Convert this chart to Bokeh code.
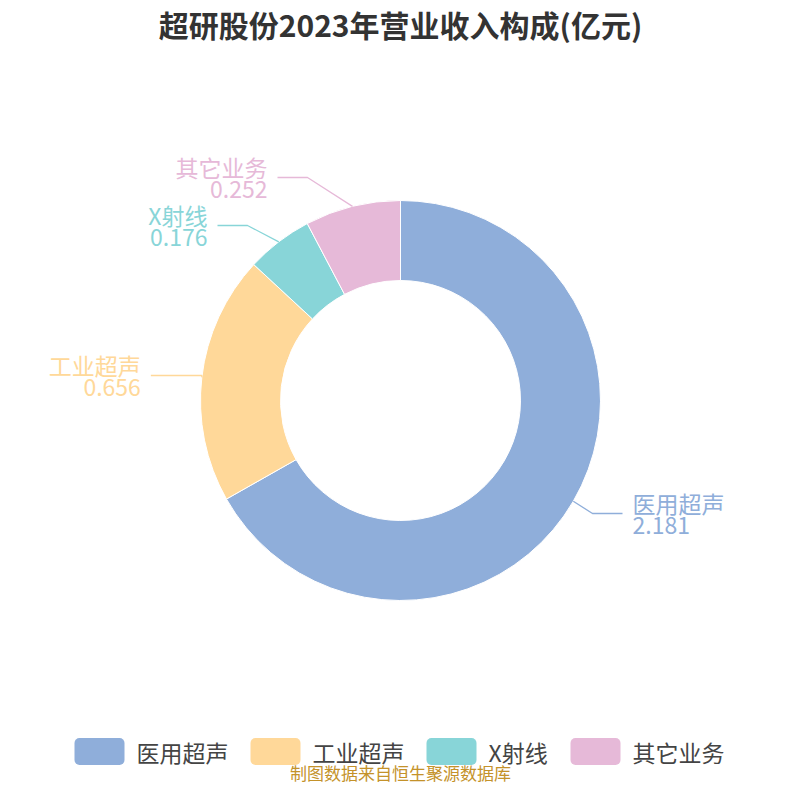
import math
from bokeh.plotting import figure
from bokeh.models import Range1d
from bokeh.core.properties import value
from bokeh.embed import file_html
from bokeh.resources import INLINE

# ---- data ----
categories = ["医用超声", "工业超声", "X射线", "其它业务"]
revenues = [2.181, 0.656, 0.176, 0.252]
colors = ["#8FAEDA", "#FFD899", "#88D5D8", "#E6B9D8"]
title_text = "超研股份2023年营业收入构成(亿元)"
source_text = "制图数据来自恒生聚源数据库"

# ---- layout (screen coordinates of the picture) ----
W = H = 784
CX, CY = 400, 400
R_OUT, R_IN = 200, 120
# elbow points of leader lines and direction of the label (+1 right, -1 left)
label_elbows = [(592, 513), (None, 375), (247, 225), (307, 177)]
label_side = [1, -1, -1, -1]
legend_box_x = [74, 250, 426, 570]
LEGEND_Y = 751
FONT = "Noto Sans CJK SC"


def Y(y):
    return H - y


p = figure(width=W, height=H, output_backend="svg", toolbar_location=None,
           x_range=Range1d(0, W), y_range=Range1d(0, H),
           min_border=0, outline_line_color=None)
p.axis.visible = False
p.grid.visible = False
p.background_fill_color = "white"

total = sum(revenues)
cum = 0.0
for i, v in enumerate(revenues):
    a0 = math.pi / 2 - cum / total * 2 * math.pi
    cum += v
    a1 = math.pi / 2 - cum / total * 2 * math.pi
    p.annular_wedge(x=CX, y=Y(CY), inner_radius=R_IN, outer_radius=R_OUT,
                    start_angle=a0, end_angle=a1, direction="clock",
                    fill_color=colors[i], line_color="white", line_width=1)
    mid = (a0 + a1) / 2
    sx = CX + R_OUT * math.cos(mid)
    sy = CY - R_OUT * math.sin(mid)
    ex, ey = label_elbows[i]
    if ex is None:
        ex = sx
    side = label_side[i]
    lx = ex + side * 30 if label_elbows[i][0] is not None else ex + side * 51
    p.line(x=[sx, ex, lx], y=[Y(sy), Y(ey), Y(ey)], line_color=colors[i], line_width=1.3)
    tx = lx + side * 10
    align = "left" if side > 0 else "right"
    p.text(x=[tx], y=[Y(ey - 11)], text=[categories[i]], text_color=colors[i],
           text_font=value(FONT), text_font_size="23px", text_align=align,
           text_baseline="middle")
    p.text(x=[tx], y=[Y(ey + 12)], text=[f"{v:.3f}"], text_color=colors[i],
           text_font=value(FONT), text_font_size="23px", text_align=align,
           text_baseline="middle")

# title
p.text(x=[400], y=[Y(23)], text=[title_text], text_color="#333333",
       text_font=value(FONT), text_font_size="30px", text_font_style="bold",
       text_align="center", text_baseline="middle")

# legend
for i, c in enumerate(categories):
    bx = legend_box_x[i]
    p.quad(left=bx, right=bx + 50, bottom=Y(LEGEND_Y + 13.5), top=Y(LEGEND_Y - 13.5),
           fill_color=colors[i], line_color=None, border_radius=5)
    p.text(x=[bx + 62], y=[Y(LEGEND_Y)], text=[c], text_color="#444444",
           text_font=value(FONT), text_font_size="23px", text_align="left",
           text_baseline="middle")

p.text(x=[400], y=[Y(772)], text=[source_text], text_color="#C4922A",
       text_font=value(FONT), text_font_size="17px", text_align="center",
       text_baseline="middle")

open("out.html", "w").write(file_html(p, INLINE))
